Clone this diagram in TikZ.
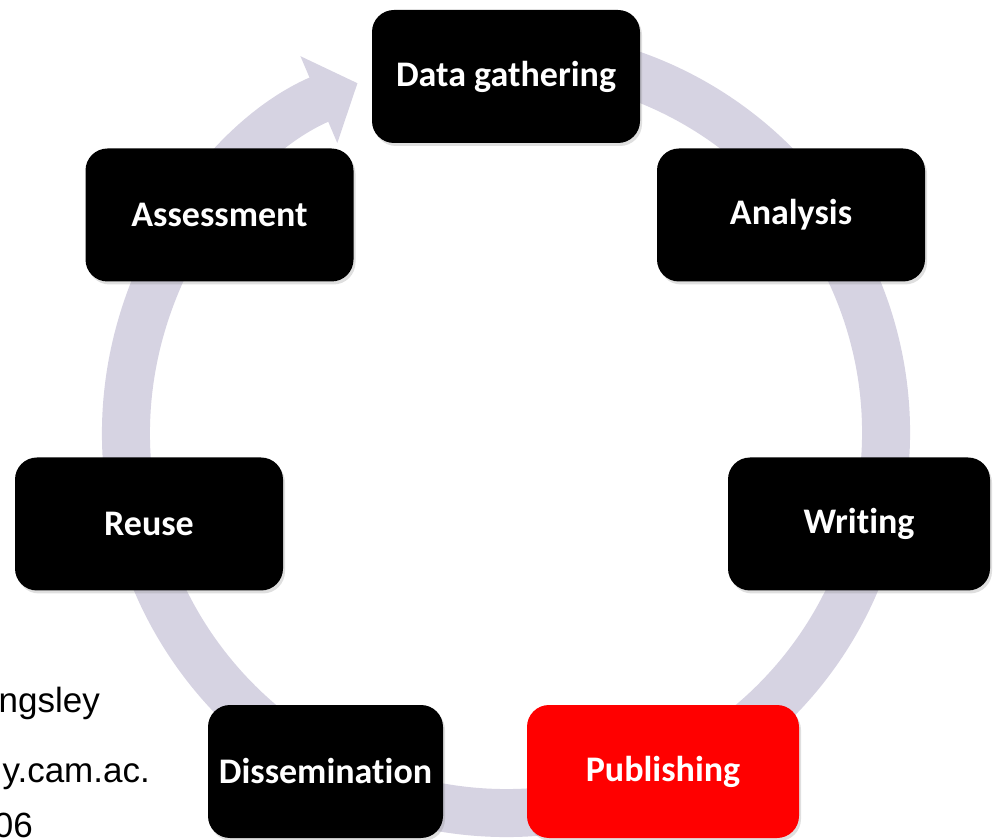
\documentclass[tikz,border=0pt]{standalone}
\usepackage{fontspec}
\setmainfont{Liberation Sans}
\newfontfamily\stagefont[Ligatures=NoCommon]{Carlito}
\usepackage{xcolor}
\usepackage{tikz}
\usetikzlibrary{arrows.meta, shadows, calc}
\definecolor{ringgrey}{RGB}{214,211,226}
\definecolor{pubred}{RGB}{255,0,0}
\tikzset{
  stage/.style={rectangle, rounded corners=22pt, minimum width=268pt, minimum height=133pt, text centered, fill=black, text=white, font=\stagefont\bfseries\fontsize{36}{40}\selectfont, drop shadow={opacity=0.25, shadow xshift=2pt, shadow yshift=-3pt}},
  ring/.style={draw=ringgrey, line width=48pt, -{Triangle[length=42pt, width=92pt]}},
  note/.style={anchor=base east, inner sep=0pt, font=\fontsize{35}{40}\selectfont}
}

\begin{document}
\begin{tikzpicture}[x=1pt, y=1pt]
\useasboundingbox (0,0) rectangle (994,839);
\clip (0,0) rectangle (994,839);
% the cycle ring
\coordinate (hub) at (506,406);
\draw[ring] ($(hub)+(80:380)$) arc[start angle=80, end angle=-247, radius=380];

% stages
\node[stage] (gather) at (506,762.5) {Data gathering};
\node[stage] (analysis) at (791,624) {Analysis};
\node[stage, minimum width=262pt] (writing) at (859,315) {Writing};
\node[stage, fill=pubred, minimum width=272pt] (publish) at (663,67.5) {Publishing};
\node[stage, minimum width=235pt] (dissem) at (325.5,67.5) {Dissemination};
\node[stage] (reuse) at (149,315) {Reuse};
\node[stage] (assess) at (219.5,624) {Assessment};

% side text
\node[note] (name) at (100,127) {ngsley};
\node[note] (url) at (150,57) {y.cam.ac.};
\node[note] (num) at (33,2) {06};
\end{tikzpicture}
\end{document}
